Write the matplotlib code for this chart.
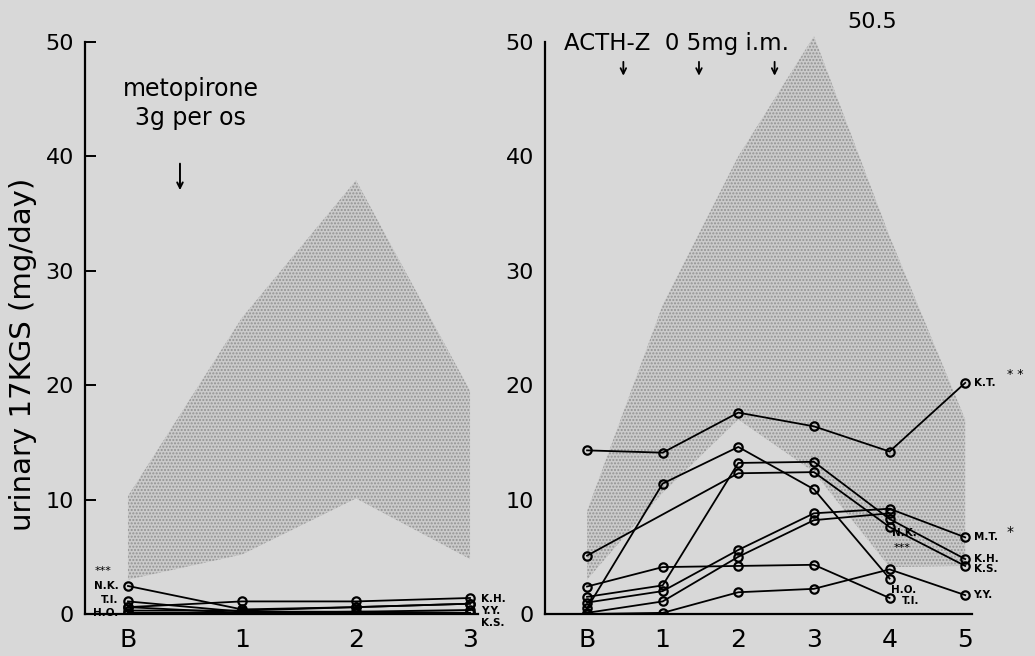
import numpy as np
import matplotlib.pyplot as plt

plt.rcParams['font.family'] = ['DejaVu Sans']

days_left = ['B', '1', '2', '3']
days_right = ['B', '1', '2', '3', '4', '5']
yticks = [0, 10, 20, 30, 40, 50]

# normal range (shaded area)
met_upper = [10.3, 25.9, 37.9, 19.5]
met_lower = [3.0, 5.2, 10.1, 4.8]
acth_upper = [9.0, 27.0, 40.0, 50.5, 33.0, 17.0]
acth_lower = [3.0, 10.6, 17.0, 12.4, 4.1, 4.2]

# metopirone test, patients
met_KH = [0.6, 1.1, 1.1, 1.4]
met_NK = [2.45, 0.4, 0.6, 0.9]
met_TI = [1.1, 0.2, 0.2, 0.35]
met_HO = [0.6, 0.1, 0.1, 0.1]
met_YY = [0.3, 0.3, 0.6, 0.9]
met_KS = [0.1, 0.1, 0.2, 0.1]

# ACTH-Z test, patients (nan = not measured)
nan = np.nan
acth_KT = [14.3, 14.1, 17.6, 16.4, 14.2, 20.2]
acth_HO = [0.5, 11.4, 14.6, 10.9, 3.1, nan]
acth_KH = [1.5, 2.5, 13.2, 13.3, 8.3, 4.8]
acth_KS = [5.1, nan, 12.3, 12.4, 7.6, 4.2]
acth_MT = [1.0, 2.0, 5.6, 8.8, 9.2, 6.7]
acth_NK = [0.1, 1.1, 5.0, 8.2, 8.8, nan]
acth_TI = [2.4, 4.1, 4.2, 4.3, 1.4, nan]
acth_YY = [0.0, 0.1, 1.9, 2.2, 3.9, 1.65]

BG = '#d8d8d8'
fig = plt.figure(figsize=(10.35, 6.56), dpi=100, facecolor=BG)

H = 656.0
W = 1035.0
bottom = 1 - 614 / H
height = (614 - 19) / H
axL = fig.add_axes([85 / W, bottom, (478 - 85) / W, height])
axR = fig.add_axes([545 / W, bottom, (972 - 545) / W, height])


def plot_series(ax, vals):
    y = np.array(vals, dtype=float)
    x = np.arange(len(y))
    ok = ~np.isnan(y)
    ax.plot(x[ok], y[ok], '-', color='black', lw=1.3, marker='o', ms=6,
            mfc='none', mec='black', mew=1.6, zorder=3)


def shade(ax, lo, hi):
    x = np.arange(len(lo))
    ax.fill_between(x, lo, hi, facecolor='#cbcbcb', edgecolor='#929292',
                    hatch='.....', linewidth=0, zorder=1)


for ax in (axL, axR):
    ax.set_facecolor('none')
    ax.set_ylim(0, 52)
    for s in ('top', 'right'):
        ax.spines[s].set_visible(False)
    ax.spines['left'].set_bounds(0, 50)
    ax.spines['left'].set_linewidth(1.6)
    ax.spines['bottom'].set_linewidth(1.6)
    ax.set_yticks(yticks)
    ax.set_yticklabels([str(t) for t in yticks], fontsize=16)
    ax.tick_params(axis='x', length=0, pad=10, labelsize=18)

axL.tick_params(axis='y', direction='in', length=8, width=1.4, pad=8)
axR.tick_params(axis='y', length=0, pad=8)

# left panel: metopirone
axL.set_xlim(-0.377, 3.07)
axL.set_xticks(range(len(days_left)))
axL.set_xticklabels(days_left)
shade(axL, met_lower, met_upper)
for s in (met_KH, met_NK, met_TI, met_HO, met_YY, met_KS):
    plot_series(axL, s)

lab = dict(fontsize=7.5, fontweight='bold')
axL.annotate('N.K.', (0, met_NK[0]), xytext=(-7, 0), textcoords='offset points',
             ha='right', va='center', **lab)
axL.annotate('***', (0, met_NK[0]), xytext=(-12, 11), textcoords='offset points',
             ha='right', va='center', fontsize=8)
axL.annotate('T.I.', (0, met_TI[0]), xytext=(-7, 1), textcoords='offset points',
             ha='right', va='center', **lab)
axL.annotate('H.O.', (0, met_HO[0]), xytext=(-7, -4), textcoords='offset points',
             ha='right', va='center', **lab)
axL.annotate('K.H.', (3, met_KH[3]), xytext=(8, -1), textcoords='offset points',
             ha='left', va='center', **lab)
axL.annotate('Y.Y.', (3, met_YY[3]), xytext=(8, -5), textcoords='offset points',
             ha='left', va='center', **lab)
axL.annotate('K.S.', (3, met_KS[3]), xytext=(8, -7), textcoords='offset points',
             ha='left', va='center', **lab)

axL.text(0.55, 44.6, 'metopirone\n3g per os', ha='center', va='center',
         fontsize=17, linespacing=1.25)
axL.annotate('', xy=(0.456, 36.8), xytext=(0.456, 39.6),
             arrowprops=dict(arrowstyle='->', color='black', lw=1.4))

# right panel: ACTH-Z
axR.set_xlim(-0.556, 5.09)
axR.set_xticks(range(len(days_right)))
axR.set_xticklabels(days_right)
shade(axR, acth_lower, acth_upper)
for s in (acth_KT, acth_HO, acth_KH, acth_KS, acth_MT, acth_NK, acth_TI, acth_YY):
    plot_series(axR, s)

axR.annotate('K.T.', (5, acth_KT[5]), xytext=(6, 0), textcoords='offset points',
             ha='left', va='center', **lab)
axR.annotate('* *', (5, acth_KT[5]), xytext=(30, 6), textcoords='offset points',
             ha='left', va='center', fontsize=9)
axR.annotate('M.T.', (5, acth_MT[5]), xytext=(6, 0), textcoords='offset points',
             ha='left', va='center', **lab)
axR.annotate('*', (5, acth_MT[5]), xytext=(30, 4), textcoords='offset points',
             ha='left', va='center', fontsize=10)
axR.annotate('K.H.', (5, acth_KH[5]), xytext=(6, 0), textcoords='offset points',
             ha='left', va='center', **lab)
axR.annotate('K.S.', (5, acth_KS[5]), xytext=(6, -2), textcoords='offset points',
             ha='left', va='center', **lab)
axR.annotate('Y.Y.', (5, acth_YY[5]), xytext=(6, 0), textcoords='offset points',
             ha='left', va='center', **lab)
axR.annotate('H.O.', (4, acth_HO[4]), xytext=(1, -8), textcoords='offset points',
             ha='left', va='center', **lab)
axR.annotate('T.I.', (4, acth_TI[4]), xytext=(9, -2), textcoords='offset points',
             ha='left', va='center', **lab)
axR.annotate('N.K.', (4, acth_NK[4]), xytext=(2, -14), textcoords='offset points',
             ha='left', va='center', **lab)
axR.annotate('***', (4, acth_NK[4]), xytext=(3, -25), textcoords='offset points',
             ha='left', va='center', fontsize=8)

axR.text(-0.3, 49.9, 'ACTH-Z  0 5mg i.m.', ha='left', va='center', fontsize=16.5,
         clip_on=False)
for xa in (0.48, 1.48, 2.48):
    axR.annotate('', xy=(xa, 46.8), xytext=(xa, 48.5),
                 arrowprops=dict(arrowstyle='->', color='black', lw=1.3))
axR.text(3.77, 51.7, '50.5', ha='center', va='center', fontsize=16, clip_on=False)

fig.text(0.022, 0.46, 'urinary 17KGS (mg/day)', rotation=90, ha='center',
         va='center', fontsize=21)

fig.savefig('out.png', dpi=100, facecolor=BG)
